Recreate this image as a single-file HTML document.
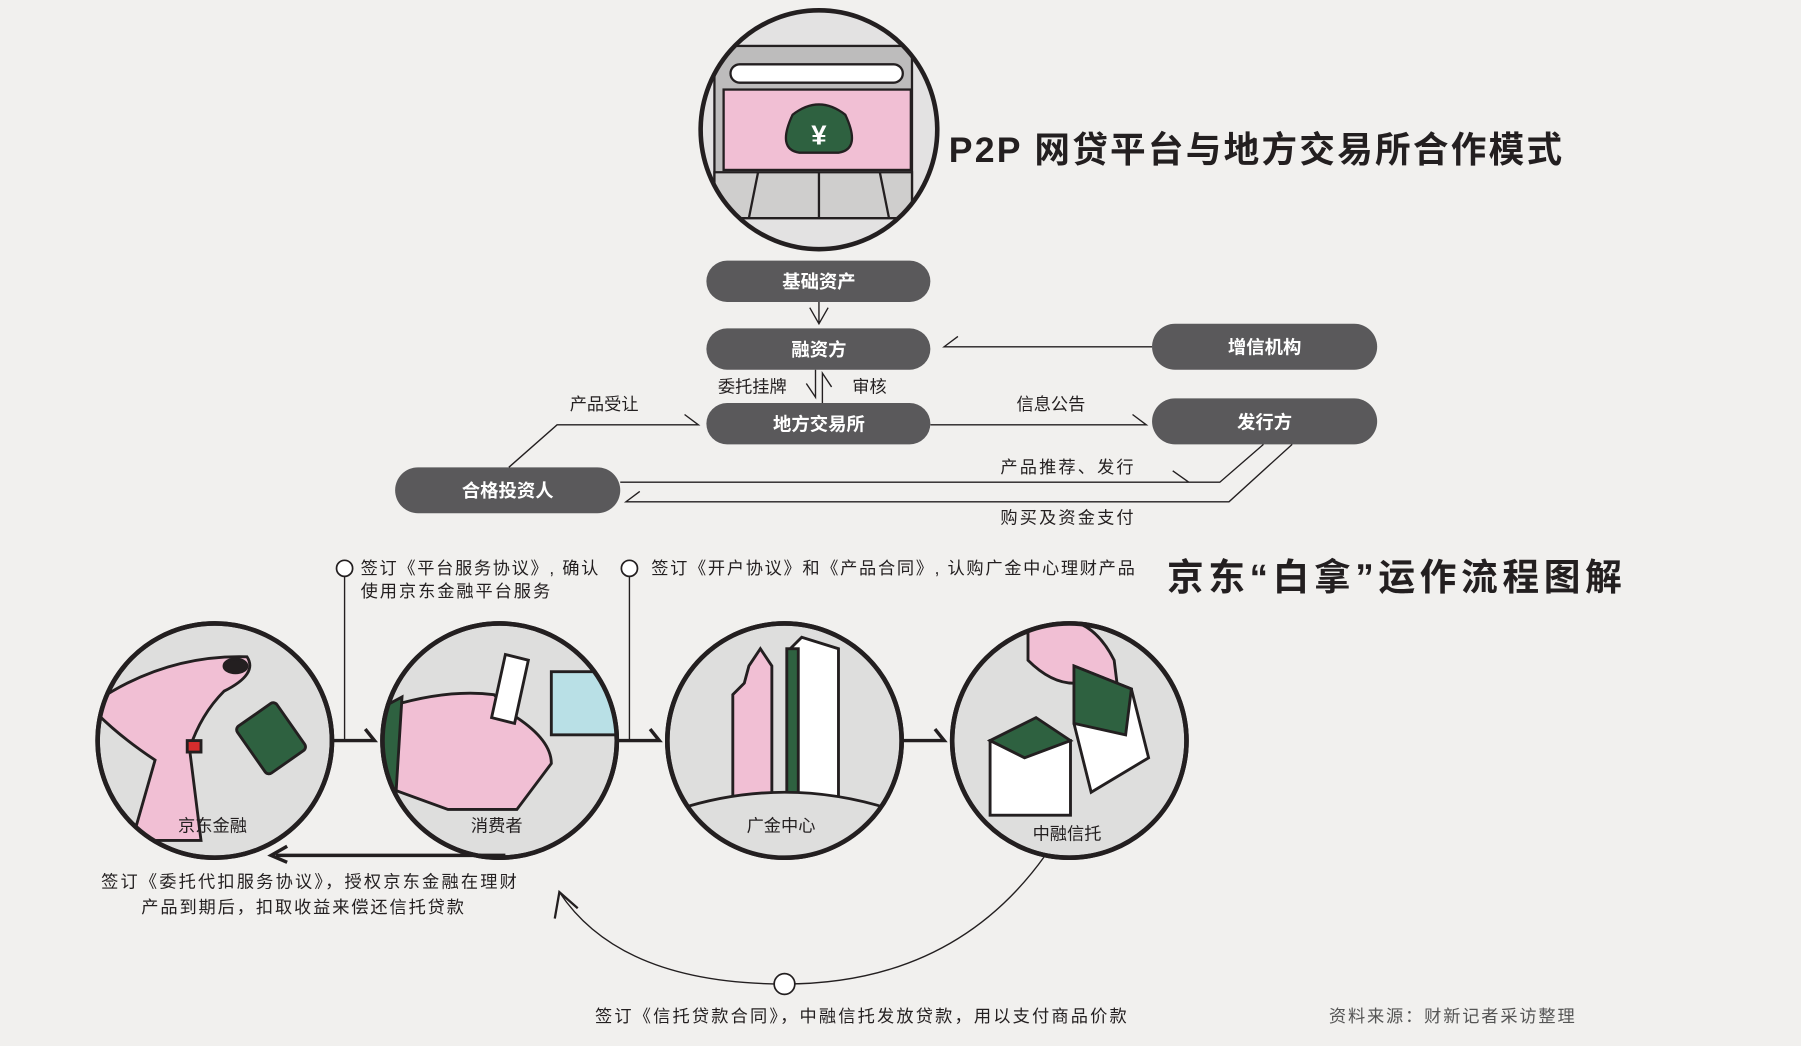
<!DOCTYPE html>
<html><head><meta charset="utf-8"><style>
html,body{margin:0;padding:0;background:#f1f0ee;}
svg{display:block;}
text{font-family:"Liberation Sans","Noto Sans CJK SC",sans-serif;}
.p{fill:#5a595b;}
.pt{fill:#fff;font-size:16px;font-weight:bold;text-anchor:middle;}
.lb{fill:#231f20;font-size:15px;}
.ln{stroke:#231f20;stroke-width:1.2;fill:none;}
.c{fill:#dededd;stroke:#231f20;stroke-width:4;}
.co{fill:none;stroke:#231f20;stroke-width:4;}
</style></head><body>
<svg width="1801" height="1046" viewBox="0 0 1568 911" preserveAspectRatio="none">
<rect width="1568" height="911" fill="#f1f0ee"/>
<defs><clipPath id="tc"><ellipse cx="713" cy="113" rx="103" ry="104"/></clipPath>
<clipPath id="c1"><circle cx="187" cy="645" r="102"/></clipPath>
<clipPath id="c2"><circle cx="435" cy="645" r="102"/></clipPath>
<clipPath id="c3"><circle cx="683" cy="645" r="102"/></clipPath>
<clipPath id="c4"><circle cx="931" cy="645" r="102"/></clipPath></defs>
<ellipse cx="713" cy="113" rx="103" ry="104" fill="#e3e2e2"/>
<g clip-path="url(#tc)" stroke="#231f20" stroke-width="2">
<rect x="622" y="40" width="172" height="150" fill="#bdbcbc"/>
<rect x="636" y="56" width="150" height="16" rx="8" fill="#fff"/>
<rect x="630" y="78" width="163" height="70" fill="#f1bfd4"/>
<path d="M690 100 q23 -18 46 0 q14 30 -6 33 h-34 q-20 -3 -6 -33z" fill="#2e6140"/>
<text x="713" y="126" font-size="24" fill="#fff" stroke="none" text-anchor="middle" font-weight="bold">¥</text>
<path d="M622 150 h172 v40 h-172z" fill="#cfcecd"/>
<path d="M660 150 l-8 40 M713 150 v40 M766 150 l8 40" />
</g>
<ellipse cx="713" cy="113" rx="103" ry="104" fill="none" stroke="#231f20" stroke-width="4"/>
<text x="826" y="141" font-size="31" font-weight="bold" fill="#231f20" textLength="534" lengthAdjust="spacing">P2P 网贷平台与地方交易所合作模式</text>
<rect class="p" x="615" y="227" width="195" height="36" rx="18"/><text class="pt" x="713" y="251">基础资产</text>
<rect class="p" x="615" y="286" width="195" height="36" rx="18"/><text class="pt" x="713" y="310">融资方</text>
<rect class="p" x="1003" y="282" width="196" height="40" rx="20"/><text class="pt" x="1101" y="308">增信机构</text>
<rect class="p" x="615" y="351" width="195" height="36" rx="18"/><text class="pt" x="713" y="375">地方交易所</text>
<rect class="p" x="1003" y="347" width="196" height="40" rx="20"/><text class="pt" x="1101" y="373">发行方</text>
<rect class="p" x="344" y="407" width="196" height="40" rx="20"/><text class="pt" x="442" y="433">合格投资人</text>
<path class="ln" d="M713 263 v18 M705 268 l8 14 l8 -14"/>
<path class="ln" d="M1003 302 H822 l12 -9"/>
<path class="ln" d="M710 322 v24 l-8 -12 M716 351 v-26 l8 12"/>
<text class="lb" x="625" y="342">委托挂牌</text><text class="lb" x="742" y="342">审核</text>
<path class="ln" d="M810 370 H998 l-12 -9"/>
<text class="lb" x="885" y="357">信息公告</text>
<path class="ln" d="M443 407 L485 370 H608 l-12 -9"/>
<text class="lb" x="496" y="357">产品受让</text>
<path class="ln" d="M1100 387 L1062 420 H540 M1035 420 l-14 -10"/>
<text class="lb" x="871" y="412" textLength="116" lengthAdjust="spacing">产品推荐、发行</text>
<path class="ln" d="M1125 387 L1070 437 H545 l12 -9"/>
<text class="lb" x="871" y="456" textLength="116" lengthAdjust="spacing">购买及资金支付</text>
<text x="1016" y="514" font-size="32" font-weight="bold" fill="#231f20" textLength="396" lengthAdjust="spacing">京东“白拿”运作流程图解</text>
<circle cx="300" cy="495" r="7" fill="#fff" stroke="#231f20" stroke-width="1.5"/>
<path class="ln" d="M300 502 V645"/>
<text class="lb" x="314" y="500" textLength="207" lengthAdjust="spacing">签订《平台服务协议》, 确认</text>
<text class="lb" x="314" y="520" textLength="165" lengthAdjust="spacing">使用京东金融平台服务</text>
<circle cx="548" cy="495" r="7" fill="#fff" stroke="#231f20" stroke-width="1.5"/>
<path class="ln" d="M548 502 V645"/>
<text class="lb" x="567" y="500" textLength="421" lengthAdjust="spacing">签订《开户协议》和《产品合同》, 认购广金中心理财产品</text>
<g stroke="#231f20" stroke-width="3" fill="none">
<path d="M288 645 h38 l-8 -10"/><path d="M536 645 h38 l-8 -10"/><path d="M784 645 h38 l-8 -10"/>
</g>
<circle class="c" cx="187" cy="645" r="102"/>
<g clip-path="url(#c1)" stroke="#231f20" stroke-width="2.5">
<path d="M85 610 q60 -40 130 -38 q10 15 -20 30 q-20 20 -30 50 l10 80 h-60 l20 -70 q-30 -20 -50 -40z" fill="#f1bfd4"/>
<ellipse cx="205" cy="580" rx="10" ry="6" fill="#231f20"/>
<rect x="215" y="618" width="42" height="50" rx="4" transform="rotate(-35 236 643)" fill="#2e6140"/>
<rect x="163" y="645" width="12" height="10" fill="#d62d2d"/>
</g>
<circle class="co" cx="187" cy="645" r="102"/>
<text class="lb" x="155" y="724" font-size="16">京东金融</text>
<circle class="c" cx="435" cy="645" r="102"/>
<g clip-path="url(#c2)" stroke="#231f20" stroke-width="2.5">
<rect x="480" y="585" width="60" height="55" fill="#b9e0e6"/>
<path d="M340 615 q50 -15 90 -10 l20 20 q30 20 30 40 l-30 40 l-60 0 l-55 -20z" fill="#f1bfd4"/>
<path d="M335 615 l15 -8 l-5 80 l-15 0z" fill="#2e6140"/>
<path d="M440 570 l20 5 l-12 55 l-20 -5z" fill="#fff"/>
</g>
<circle class="co" cx="435" cy="645" r="102"/>
<text class="lb" x="410" y="724" font-size="16">消费者</text>
<circle class="c" cx="683" cy="645" r="102"/>
<g clip-path="url(#c3)" stroke="#231f20" stroke-width="2.5">
<path d="M652 580 l10 -15 l10 15 v115 h-34 v-90 l10 -10z" fill="#f1bfd4"/>
<path d="M688 565 l10 -10 l32 10 v130 h-42z" fill="#fff"/>
<rect x="685" y="565" width="10" height="130" fill="#2e6140"/>
<path d="M590 705 q93 -30 186 0 v50 h-186z" fill="#dededd"/>
</g>
<circle class="co" cx="683" cy="645" r="102"/>
<text class="lb" x="650" y="724" font-size="16">广金中心</text>
<circle class="c" cx="931" cy="645" r="102"/>
<g clip-path="url(#c4)" stroke="#231f20" stroke-width="2.5">
<path d="M895 545 q50 -20 75 30 l5 40 l-30 0 l-10 -20 q-20 0 -40 -20z" fill="#f1bfd4"/>
<path d="M935 580 l50 20 l15 60 l-50 30 l-15 -60z" fill="#fff"/>
<path d="M935 580 l50 20 l-5 40 l-45 -10z" fill="#2e6140"/>
<rect x="862" y="645" width="70" height="65" fill="#fff"/>
<path d="M862 645 l40 -20 l30 20 l-40 15z" fill="#2e6140"/>
</g>
<circle class="co" cx="931" cy="645" r="102"/>
<text class="lb" x="899" y="731" font-size="16">中融信托</text>
<path d="M440 745 H240" stroke="#231f20" stroke-width="3"/>
<path d="M250 737 l-14 8 l14 6" stroke="#231f20" stroke-width="3" fill="none"/>
<text class="lb" x="88" y="773" textLength="362" lengthAdjust="spacing">签订《委托代扣服务协议》，授权京东金融在理财</text>
<text class="lb" x="123" y="795" textLength="281" lengthAdjust="spacing">产品到期后，扣取收益来偿还信托贷款</text>
<path class="ln" d="M910 745 Q830 857 683 857 Q540 857 487 777"/>
<path d="M483 800 l4 -23 l16 14" stroke="#231f20" stroke-width="2" fill="none"/>
<circle cx="683" cy="857" r="9" fill="#fff" stroke="#231f20" stroke-width="1.5"/>
<text class="lb" x="518" y="890" textLength="463" lengthAdjust="spacing">签订《信托贷款合同》，中融信托发放贷款，用以支付商品价款</text>
<text x="1157" y="890" font-size="15" fill="#555" textLength="214" lengthAdjust="spacing">资料来源：财新记者采访整理</text>
</svg>
</body></html>
